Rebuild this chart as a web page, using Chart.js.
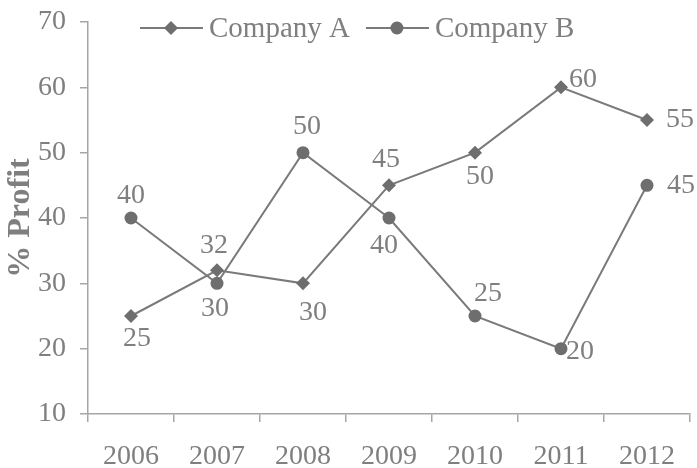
<!DOCTYPE html>
<html>
<head>
<meta charset="utf-8">
<script src="https://cdn.jsdelivr.net/npm/chart.js@4/dist/chart.umd.min.js"></script>
<style>
html,body{margin:0;padding:0;background:#fff;}
#wrap{width:697px;height:468px;}
</style>
</head>
<body>
<div id="wrap"><canvas id="c" width="697" height="468"></canvas></div>
<script>
const years = ['2006','2007','2008','2009','2010','2011','2012'];
const companyA = [25, 32, 30, 45, 50, 60, 55];
const companyB = [40, 30, 50, 40, 25, 20, 45];
const seriesNames = ['Company A', 'Company B'];
const yTicks = [10, 20, 30, 40, 50, 60, 70];
const yTitle = '% Profit';

// label placement (style only)
const placeA = [[6,23],[-3,-25],[10,29],[-3,-26],[5,24],[22,-8],[33,0]];
const placeB = [[0,-22],[-2,25],[4,-26],[-5,28],[13,-22],[19,3],[34,0]];

const FONT = '"Liberation Serif", "Times New Roman", serif';
const TEXT = '#7f7f7f';
const LINE = '#7a7a7a';
const MARK = '#6e6e6e';
const AXIS = '#a6a6a6';

const labelPlugin = {
  id: 'pointLabels',
  afterDatasetsDraw(chart) {
    const ctx = chart.ctx;
    ctx.save();
    ctx.font = '28px ' + FONT;
    ctx.fillStyle = TEXT;
    ctx.textAlign = 'center';
    ctx.textBaseline = 'middle';
    const places = [placeA, placeB];
    chart.data.datasets.forEach((ds, di) => {
      const meta = chart.getDatasetMeta(di);
      meta.data.forEach((pt, i) => {
        const p = places[di][i];
        ctx.fillText(String(ds.data[i]), pt.x + p[0], pt.y + p[1]);
      });
    });
    ctx.restore();
  }
};

const legendPlugin = {
  id: 'customLegend',
  afterDraw(chart) {
    const ctx = chart.ctx;
    const area = chart.chartArea;
    ctx.save();
    ctx.font = '29px ' + FONT;
    ctx.textBaseline = 'middle';
    const y = area.top + 6;
    let x = area.left + 52;
    chart.data.datasets.forEach((ds, di) => {
      ctx.strokeStyle = LINE;
      ctx.lineWidth = 2;
      ctx.beginPath();
      ctx.moveTo(x, y);
      ctx.lineTo(x + 63, y);
      ctx.stroke();
      ctx.fillStyle = MARK;
      const cx = x + 31, r = 7;
      ctx.beginPath();
      if (ds.pointStyle === 'rectRot') {
        ctx.moveTo(cx, y - r); ctx.lineTo(cx + r, y); ctx.lineTo(cx, y + r); ctx.lineTo(cx - r, y);
        ctx.closePath();
      } else {
        ctx.arc(cx, y, 6.5, 0, Math.PI * 2);
      }
      ctx.fill();
      ctx.fillStyle = TEXT;
      ctx.textAlign = 'left';
      ctx.fillText(ds.label, x + 69, y + 1);
      x += 69 + ctx.measureText(ds.label).width + 16;
    });
    ctx.restore();
  }
};

new Chart(document.getElementById('c'), {
  type: 'line',
  data: {
    labels: years,
    datasets: [
      {
        label: seriesNames[0],
        data: companyA,
        borderColor: LINE,
        borderWidth: 2,
        pointStyle: 'rectRot',
        pointRadius: 7,
        pointBackgroundColor: MARK,
        pointBorderColor: MARK,
        pointBorderWidth: 0,
        tension: 0,
        fill: false
      },
      {
        label: seriesNames[1],
        data: companyB,
        borderColor: LINE,
        borderWidth: 2,
        pointStyle: 'circle',
        pointRadius: 6.5,
        pointBackgroundColor: MARK,
        pointBorderColor: MARK,
        pointBorderWidth: 0,
        tension: 0,
        fill: false
      }
    ]
  },
  options: {
    responsive: false,
    animation: false,
    layout: { padding: { top: 22, right: 7, left: 0, bottom: 0 } },
    plugins: {
      legend: { display: false },
      tooltip: { enabled: false }
    },
    scales: {
      x: {
        offset: true,
        grid: { display: true, drawOnChartArea: false, offset: true, tickLength: 8, color: AXIS, lineWidth: 1.5 },
        border: { display: true, color: AXIS, width: 1.5 },
        ticks: { color: TEXT, font: { family: FONT, size: 28 }, padding: 18, maxRotation: 0, autoSkip: false },
        afterFit(scale) { scale.height = 54; scale.paddingLeft = 0; scale.paddingRight = 0; }
      },
      y: {
        min: yTicks[0],
        max: yTicks[yTicks.length - 1],
        afterBuildTicks(scale) { scale.ticks = yTicks.map(v => ({ value: v })); },
        grid: { display: true, drawOnChartArea: false, tickLength: 8, color: AXIS, lineWidth: 1.5 },
        border: { display: true, color: AXIS, width: 1.5 },
        ticks: { color: TEXT, font: { family: FONT, size: 28 }, padding: 14 },
        title: { display: true, text: yTitle, color: TEXT, font: { family: FONT, size: 32, weight: 'bold' }, padding: { top: 2, bottom: 0 } },
        afterFit(scale) { scale.width = 88; scale.paddingTop = 0; scale.paddingBottom = 0; }
      }
    }
  },
  plugins: [labelPlugin, legendPlugin]
});
</script>
</body>
</html>
